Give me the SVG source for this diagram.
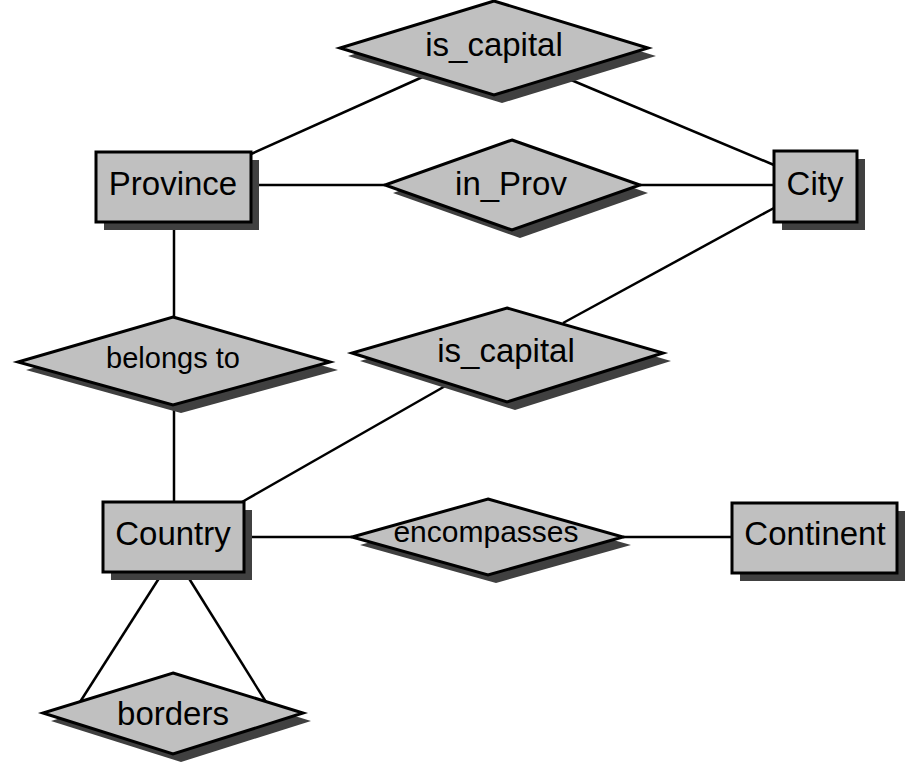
<svg xmlns="http://www.w3.org/2000/svg" width="910" height="769" viewBox="0 0 910 769">
<style>
.sh{fill:#404040;stroke:none}
.nd{fill:#c0c0c0;stroke:#000;stroke-width:3;stroke-linejoin:miter}
.ln{stroke:#000;stroke-width:2.5;fill:none}
text{font-family:"Liberation Sans",Arial,sans-serif;font-size:33px;fill:#000;text-anchor:middle}
</style>
<rect width="910" height="769" fill="#fff"/>
<g id="connectors">
<line class="ln" x1="251" y1="154" x2="427" y2="75"/>
<line class="ln" x1="774" y1="165" x2="564" y2="77"/>
<line class="ln" x1="251" y1="185" x2="385" y2="185"/>
<line class="ln" x1="640" y1="185" x2="774" y2="185"/>
<line class="ln" x1="774" y1="208" x2="563" y2="323"/>
<line class="ln" x1="174" y1="222" x2="174" y2="317"/>
<line class="ln" x1="174" y1="405" x2="174" y2="502"/>
<line class="ln" x1="242" y1="502" x2="447" y2="385"/>
<line class="ln" x1="244" y1="537" x2="352" y2="537"/>
<line class="ln" x1="623" y1="537" x2="732" y2="537"/>
<line class="ln" x1="163" y1="572" x2="80" y2="702"/>
<line class="ln" x1="185" y1="572" x2="266" y2="702"/>
</g>
<g id="is_capital_top">
<polygon class="sh" points="502,9 656,56 502,103 348,56"/>
<polygon class="nd" points="494,1 648,48 494,95 340,48"/>
<text x="494" y="56">is_capital</text>
</g>
<g id="Province">
<rect class="sh" x="104" y="160" width="155" height="70"/>
<rect class="nd" x="96" y="152" width="155" height="70"/>
<text x="173" y="195">Province</text>
</g>
<g id="in_Prov">
<polygon class="sh" points="520,148 648,193 520,238 393,193"/>
<polygon class="nd" points="512,140 640,185 512,230 385,185"/>
<text x="511" y="195">in_Prov</text>
</g>
<g id="City">
<rect class="sh" x="782" y="159" width="83" height="71"/>
<rect class="nd" x="774" y="151" width="83" height="71"/>
<text x="815" y="195">City</text>
</g>
<g id="belongs_to">
<polygon class="sh" points="181,325 338,370 181,413 26,370"/>
<polygon class="nd" points="173,317 330,362 173,405 18,362"/>
<text x="173" y="368" style="font-size:29px">belongs to</text>
</g>
<g id="is_capital_bottom">
<polygon class="sh" points="515,316 671,361 515,410 360,361"/>
<polygon class="nd" points="507,308 663,353 507,402 352,353"/>
<text x="506" y="362">is_capital</text>
</g>
<g id="Country">
<rect class="sh" x="111" y="510" width="141" height="70"/>
<rect class="nd" x="103" y="502" width="141" height="70"/>
<text x="173" y="545">Country</text>
</g>
<g id="encompasses">
<polygon class="sh" points="496,507 631,545 496,583 360,545"/>
<polygon class="nd" points="488,499 623,537 488,575 352,537"/>
<text x="486" y="542" style="font-size:30px">encompasses</text>
</g>
<g id="Continent">
<rect class="sh" x="740" y="511" width="165" height="70"/>
<rect class="nd" x="732" y="503" width="165" height="70"/>
<text x="815" y="545">Continent</text>
</g>
<g id="borders">
<polygon class="sh" points="181,681 311,721 181,762 51,721"/>
<polygon class="nd" points="173,673 303,713 173,754 43,713"/>
<text x="173" y="725">borders</text>
</g>
</svg>
